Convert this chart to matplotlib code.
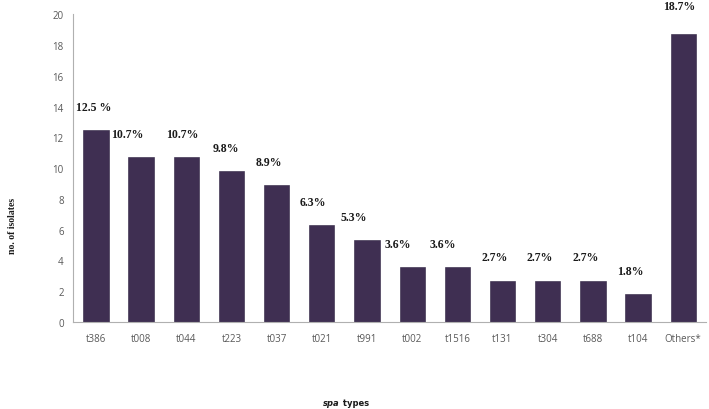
import numpy as np
import matplotlib
matplotlib.use('agg')
import matplotlib.pyplot as plt

# spa types and no. of isolates
spa_types = ['t386', 't008', 't044', 't223', 't037', 't021', 't991', 't002',
             't1516', 't131', 't304', 't688', 't104', 'Others*']
isolates = [12.5, 10.7, 10.7, 9.8, 8.9, 6.3, 5.3, 3.6, 3.6, 2.7, 2.7, 2.7, 1.8, 18.7]
pct_labels = ['12.5 %', '10.7%', '10.7%', '9.8%', '8.9%', '6.3%', '5.3%', '3.6%',
              '3.6%', '2.7%', '2.7%', '2.7%', '1.8%', '18.7%']

# where the percent labels sit relative to each bar (x shift in bar units)
label_dx = [-0.05, -0.31, -0.1, -0.13, -0.17, -0.2, -0.3, -0.31, -0.32, -0.18, -0.18, -0.16, -0.17, -0.1]

bar_color = '#3f2f52'
axis_gray = '#b0b0b0'
tick_gray = '#595959'

fig = plt.figure(figsize=(7.09, 4.10), dpi=100)
ax = fig.add_axes([0.1035, 0.212, 0.892, 0.751])

x = np.arange(len(spa_types))
ax.bar(x, isolates, width=0.56, color=bar_color, edgecolor='#2e2240', linewidth=0.4)

for i, (v, lab) in enumerate(zip(isolates, pct_labels)):
    dy = 1.8 if i == len(isolates) - 1 else 1.5
    ax.text(x[i] + label_dx[i], v + dy, lab, ha='center', va='center',
            fontsize=8.5, fontweight='bold', family='Liberation Serif', color='#1a1a1a')

ax.set_xlim(-0.5, len(spa_types) - 0.5)
ax.set_ylim(0, 20)
ax.set_yticks(np.arange(0, 21, 2))
ax.set_xticks(x)
ax.set_xticklabels(spa_types)
ax.tick_params(axis='both', length=0, labelsize=7, labelcolor=tick_gray)
ax.tick_params(axis='x', pad=8)
ax.tick_params(axis='y', pad=7)
for lbl in ax.get_xticklabels() + ax.get_yticklabels():
    lbl.set_family('Open Sans')

for s in ['top', 'right']:
    ax.spines[s].set_visible(False)
for s in ['left', 'bottom']:
    ax.spines[s].set_color(axis_gray)
    ax.spines[s].set_linewidth(0.8)

fig.text(0.018, 0.449, 'no. of isolates', rotation=90, ha='center', va='center',
         fontsize=7, fontweight='bold', family='Liberation Serif', color='#1a1a1a')

t1 = fig.text(0.456, 0.017, 'spa', fontsize=6, fontweight='bold', fontstyle='italic',
              color='#1a1a1a', va='center')
ax.annotate(' types', xy=(1, 0.5), xycoords=t1, va='center', fontsize=6,
            fontweight='bold', color='#1a1a1a', annotation_clip=False)

fig.savefig('out.png', dpi=100)
